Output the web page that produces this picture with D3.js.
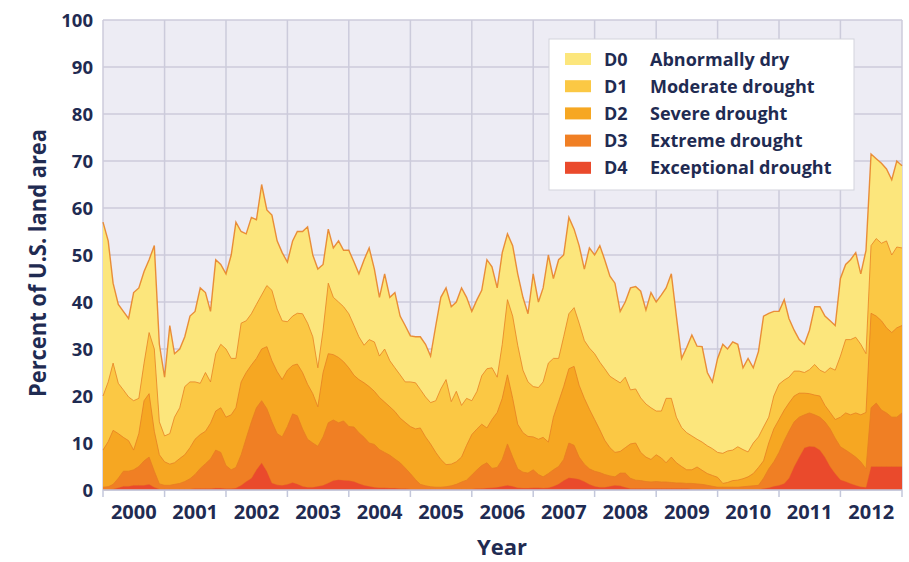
<!DOCTYPE html>
<html>
<head>
<meta charset="utf-8">
<script src="https://cdn.jsdelivr.net/npm/d3@7"></script>
<style>
    body { margin: 0; background: #ffffff; }
    svg text { font-family: "Open Sans", sans-serif; font-weight: 700; fill: #1f2b52; }
</style>
</head>
<body>
<svg id="chart" width="909" height="562"></svg>
<script>
// Percent of U.S. land area in each category or worse (cumulative), one value per month, Jan 2000 .. Jan 2013.
var d0Level = [57,53,44,39.5,38,36.5,42,43,46.5,49,52,31,
    24,35,29,30,32.6,37,38,43,42,38,49,48,
    46,50,57,55,54.5,58,57.5,65,59.6,58.5,53,50.5,
    48.5,53,55,55,56,50,47,48,55.5,51.5,53,51,
    51,48.5,46,49,51.5,47,41,46,41,42,37,35,
    32.8,32.6,32.6,31,28.5,35,41,43,39,40,43,41,
    38,40.5,42.5,49,47.5,43,50.5,54.5,52,46,41,37.5,
    46,40,43,50,45,49,50,58,55.5,52,47,51.5,
    50,52,49,45.5,44,38,40,43,43.3,42.3,38.3,42,
    40,41.5,43,46,37,28,30.3,33,30.6,30.5,25,23,
    28,31,30,31.5,31,26,28,26,29.5,37,37.6,38,
    38,40.5,36.5,34,32,31,34,39,39,37,36,35,
    45,48,49,50.5,46,51,71.5,70.5,69.5,68.3,66,70,69];

var d1Level = [20,23,27,22.7,21.3,19.8,19,19.5,27,33.5,30,14.5,
    11.5,12,15.5,17.5,22,23,23,22.7,25,23,29,31,
    30,28,28,35.5,36,37.5,39.5,41.5,43.5,42.5,38.5,36,
    35.8,37,37.6,37.5,35.5,32.6,26,34,44,41,40,39,
    37.5,35,32.6,30.8,32,31.5,28.5,30,27.5,26,24.5,23,
    23,22.8,21.4,19.8,18.6,19,21.5,23.5,18.8,21,18,19.5,
    19,21,24.3,25.8,26,24,31,40.5,37,30.8,25.5,23,
    22,21.8,23,27,28,28,32.6,37.5,38.8,35.5,31.8,30.2,
    29,27.2,25.8,24.2,23.5,22.8,24,21.3,21.5,19.6,18.3,17.5,
    16.8,16.8,19.5,19.5,15.5,13.3,12.2,11.5,10.8,10.2,9.4,8.8,
    8,7.8,8.3,8.5,9.2,8.6,8.1,10,11.3,13.4,15.5,20,
    22.5,23.4,24,25.3,25.3,25,25.6,26.7,25.5,25,26,25.5,
    28.5,32,32,32.5,31,29,52,53.5,52.5,53,50,51.7,51.5];

var d2Level = [8.5,10.3,12.7,12,11.2,10.5,8.5,12,19,20.5,12.5,7.5,
    6,5.5,5.8,6.7,7.5,9,10.8,11.8,12.5,14.2,16.8,17.5,
    15.5,16,17.5,23,25,26.6,28,30,30.5,27.5,25.2,23.5,
    25.5,26.5,26.8,25,22.5,20.5,17.7,25,29,28.8,28.2,27.3,
    26,24.4,23.5,22.8,22,21,19.7,18.7,17.7,16.7,15.3,14.4,
    13.5,13,13.2,11.3,9.8,8,6.5,5.4,5.5,6,7,9.5,
    11.8,13,14,13.2,15,16.5,19.5,24.5,19.5,14,12.2,11.4,
    11.3,10.8,11.2,10.2,15.5,18.8,22,25.8,26.3,22.3,19.5,17.2,
    15,12.8,10.6,9,8,8.2,9,9.8,10,8,7,6.5,
    7.5,6.8,5.8,7,5.8,5,4.3,4.3,4.9,4.2,3.5,3.1,
    2.7,1.4,1.6,2,2.1,2.4,2.8,3.5,4.8,6.2,10,13,
    15,17,18.5,20,20.6,20.6,20.5,20.2,20,18,16.5,15,
    15.5,16.4,16,16.4,16,16.5,37.6,37,36,34.5,33.5,34.5,35];

var d3Level = [0.6,0.7,1.2,2.5,4,4,4.3,5,6.2,7,4,1.3,
    1,1,1.2,1.4,1.8,2.4,3.3,4.6,5.6,6.6,8.5,8,
    5.2,4.3,4.8,7.5,11,14.5,17.5,19,17.3,14.5,12,11.3,
    13.5,16.2,15.8,13,10.8,10,9.3,11.3,14.3,14.9,14.3,14.7,
    13.5,13.4,12.2,11.2,10,9.7,8.6,8,7.4,6.6,5.8,4.7,
    3.5,2.2,1.2,0.9,0.7,0.6,0.6,0.7,0.9,1.2,1.7,2.1,
    3.2,4.3,5.2,5.8,4.6,4.8,6.5,9.8,7,4.5,3.8,3.6,
    4.3,3.3,2.8,3.5,4.3,5,6.5,10,9.5,7,5.5,4.5,
    4,3.7,3.3,3,2.8,3.6,3.6,2.5,2.1,2,1.8,1.7,
    1.8,1.7,1.7,1.6,1.5,1.5,1.4,1.4,1.3,1.2,1,0.8,
    0.6,0.6,0.6,0.6,0.6,0.7,0.8,0.9,1,2.5,4.5,6,
    8,10.5,12.5,14.5,15.5,16,16.4,16,15.5,14.5,13,11,
    9.2,8.5,7.8,7,6,4.5,17.5,18.5,17,16.4,15.5,15.5,16.4];

var d4Level = [0,0,0.2,0.5,0.8,0.8,1,1,1,1.2,0.6,0.2,
    0.2,0.2,0.2,0.2,0.2,0.2,0.3,0.3,0.3,0.3,0.4,0.4,
    0.3,0.3,0.4,1,1.8,2.5,4.3,5.8,4,1.5,1.1,1,
    1.2,1.6,1.3,0.8,0.6,0.6,0.8,1,1.5,2,2.2,2.1,
    2,1.8,1.4,1,0.8,0.6,0.5,0.5,0.4,0.4,0.3,0.3,
    0.2,0.2,0.2,0.2,0.2,0.2,0.2,0.2,0.2,0.2,0.2,0.2,
    0.2,0.3,0.3,0.4,0.5,0.6,0.8,1,0.8,0.5,0.4,0.4,
    0.5,0.5,0.4,0.5,0.8,1.3,2,2.6,2.5,2.3,1.8,1.2,
    0.8,0.6,0.6,0.8,1,0.9,0.6,0.3,0.3,0.3,0.3,0.3,
    0.3,0.3,0.3,0.3,0.3,0.3,0.3,0.2,0.2,0.2,0.2,0.2,
    0.1,0.1,0.1,0.1,0.1,0.1,0.1,0.1,0.1,0.3,0.5,0.8,
    1,1.4,2.5,5,7,9,9.3,9.2,8.5,7,5,3.5,
    2.2,1.8,1.4,1,0.7,0.6,5,5,5,5,5,5,5];

var levelCodes = ["D0", "D1", "D2", "D3", "D4"];
var levelNames = ["Abnormally dry", "Moderate drought", "Severe drought", "Extreme drought", "Exceptional drought"];
var levelColors = ["#fce67c", "#fbc844", "#f6a722", "#f07f24", "#ea4a2c"];
var yearLabels = ["2000", "2001", "2002", "2003", "2004", "2005", "2006", "2007", "2008", "2009", "2010", "2011", "2012"];
var yTicks = [0, 10, 20, 30, 40, 50, 60, 70, 80, 90, 100];

var levels = [d0Level, d1Level, d2Level, d3Level, d4Level];
var months = d3.timeMonth.range(new Date(2000, 0, 1), new Date(2013, 0, 2));

var svg = d3.select("#chart");
var plotLeft = 103, plotRight = 902, plotTop = 20, plotBottom = 490;

var x = d3.scaleTime()
    .domain([new Date(2000, 0, 1), new Date(2013, 0, 1)])
    .range([plotLeft, plotRight]);
var y = d3.scaleLinear()
    .domain([0, 100])
    .range([plotBottom, plotTop]);

// Plot background.
svg.append("rect")
    .attr("x", plotLeft)
    .attr("y", plotTop)
    .attr("width", plotRight - plotLeft)
    .attr("height", plotBottom - plotTop)
    .style("fill", "#edecf4");

// Grid lines.
var yearStarts = d3.timeYear.range(new Date(2000, 0, 1), new Date(2013, 0, 2));
svg.append("g")
    .selectAll("line")
    .data(yTicks)
    .enter()
    .append("line")
        .attr("x1", plotLeft)
        .attr("x2", plotRight)
        .attr("y1", function(d) { return y(d) })
        .attr("y2", function(d) { return y(d) })
        .style("stroke", "#cccbdb")
        .style("stroke-width", 1.5);

svg.append("g")
    .selectAll("line")
    .data(yearStarts)
    .enter()
    .append("line")
        .attr("x1", function(d) { return x(d) })
        .attr("x2", function(d) { return x(d) })
        .attr("y1", plotTop)
        .attr("y2", plotBottom)
        .style("stroke", "#cccbdb")
        .style("stroke-width", 1.5);

// Stacked drought layers, D0 at the back.
var area = d3.area()
    .x(function(d, i) { return x(months[i]) })
    .y0(y(0))
    .y1(function(d) { return y(d) });

var line = d3.line()
    .x(function(d, i) { return x(months[i]) })
    .y(function(d) { return y(d) });

var layers = svg.append("g");
levels.forEach(function(values, i) {
    layers.append("path")
        .datum(values)
        .attr("d", area)
        .style("fill", levelColors[i]);
    layers.append("path")
        .datum(values)
        .attr("d", line)
        .style("fill", "none")
        .style("stroke", "#e67d22")
        .style("stroke-width", i == 0 ? 1.4 : 0.9)
        .style("opacity", i == 4 ? 0.4 : 0.85);
});

// Bottom axis line and year ticks.
svg.append("line")
    .attr("x1", plotLeft)
    .attr("x2", plotRight)
    .attr("y1", plotBottom)
    .attr("y2", plotBottom)
    .style("stroke", "#c3c7db")
    .style("stroke-width", 1.5);

svg.append("g")
    .selectAll("line")
    .data(yearStarts)
    .enter()
    .append("line")
        .attr("x1", function(d) { return x(d) })
        .attr("x2", function(d) { return x(d) })
        .attr("y1", plotBottom)
        .attr("y2", plotBottom + 7)
        .style("stroke", "#c3c7db")
        .style("stroke-width", 1.5);

// Year labels sit in the middle of each year.
svg.append("g")
    .selectAll("text")
    .data(yearLabels)
    .enter()
    .append("text")
        .attr("x", function(d) { return x(new Date(+d, 6, 2)) })
        .attr("y", 519)
        .attr("text-anchor", "middle")
        .style("font-size", "20px")
        .text(function(d) { return d });

svg.append("g")
    .selectAll("text")
    .data(yTicks)
    .enter()
    .append("text")
        .attr("x", 93)
        .attr("y", function(d) { return y(d) + 6.5 })
        .attr("text-anchor", "end")
        .style("font-size", "18.5px")
        .text(function(d) { return d });

// Axis titles.
svg.append("text")
    .attr("transform", "translate(46,263) rotate(-90)")
    .attr("text-anchor", "middle")
    .attr("textLength", 268)
    .attr("lengthAdjust", "spacingAndGlyphs")
    .style("font-size", "24px")
    .text("Percent of U.S. land area");

svg.append("text")
    .attr("x", 502)
    .attr("y", 555)
    .attr("text-anchor", "middle")
    .style("font-size", "22px")
    .text("Year");

// Legend.
var legend = svg.append("g");
legend.append("rect")
    .attr("x", 549)
    .attr("y", 39)
    .attr("width", 305)
    .attr("height", 151)
    .style("fill", "#ffffff")
    .style("stroke", "#d3d3dc")
    .style("stroke-width", 1);

var rows = legend.selectAll("g")
    .data(levelCodes)
    .enter()
    .append("g")
        .attr("transform", function(d, i) { return "translate(0," + (59 + i * 27.2) + ")" });

rows.append("rect")
    .attr("x", 565)
    .attr("y", -6)
    .attr("width", 26)
    .attr("height", 12)
    .style("fill", function(d, i) { return levelColors[i] });

rows.append("text")
    .attr("x", 604)
    .attr("y", 6.5)
    .style("font-size", "18px")
    .text(function(d) { return d });

rows.append("text")
    .attr("x", 650)
    .attr("y", 6.5)
    .style("font-size", "18px")
    .text(function(d, i) { return levelNames[i] });
</script>
</body>
</html>
